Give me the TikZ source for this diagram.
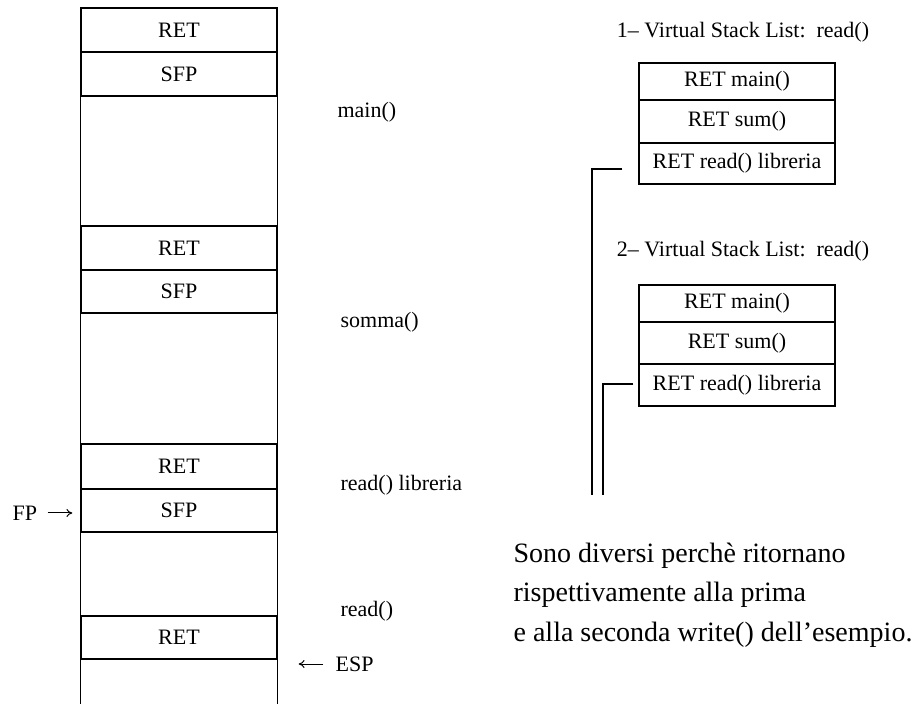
\documentclass[tikz,border=0pt]{standalone}
\usepackage{fontspec}
\setmainfont{Liberation Serif}
\usetikzlibrary{arrows.meta}

\begin{document}
\begin{tikzpicture}[x=0.5pt, y=-0.5pt,
  line width=0.6pt,
  every node/.style={font=\fontsize{11}{13}\selectfont},
  cell/.style={draw, minimum width=98pt, inner sep=0pt},
  label/.style={inner sep=0pt, anchor=west},
  note/.style={inner sep=0pt, anchor=base west, font=\fontsize{14}{17}\selectfont},
  ptr/.style={-{To[length=3pt,width=4pt]}, line width=0.5pt},
  link/.style={line width=0.6pt}]

\useasboundingbox (0,0) rectangle (914,704);

% ---- process stack (left) ----
\node[cell, minimum height=22pt]   (ret1) at (179,30)    {RET};
\node[cell, minimum height=22pt]   (sfp1) at (179,74)    {SFP};
\node[cell, minimum height=22pt]   (ret2) at (179,248)   {RET};
\node[cell, minimum height=21.5pt] (sfp2) at (179,291.5) {SFP};
\node[cell, minimum height=22.5pt] (ret3) at (179,466.5) {RET};
\node[cell, minimum height=21.5pt] (sfp3) at (179,510.5) {SFP};
\node[cell, minimum height=21.5pt] (ret4) at (179,637.5) {RET};

\coordinate (stackbottom) at (179,704);
\draw (ret1.north west) -- (ret1.north west |- stackbottom);
\draw (ret1.north east) -- (ret1.north east |- stackbottom);

% frame names
\node[label] (lmain)  at (337,112) {main()};
\node[label] (lsomma) at (340,322) {somma()};
\node[label] (llib)   at (340,485) {read() libreria};
\node[label] (lread)  at (340,611) {read()};

% frame and stack pointers
\node[label] (fp)  at (12,513)  {FP};
\draw[ptr, shorten <=5pt, shorten >=4pt] (fp.east) -- (fp.east -| sfp3.west);
\node[label] (esp) at (335,664) {ESP};
\draw[ptr, shorten <=6pt, shorten >=10.5pt] (esp.west) -- (esp.west -| ret4.east);

% ---- virtual stack lists (right) ----
\node (t1) at (743,32) {1-- Virtual Stack List:\ \ read()};
\node[cell, minimum height=18.5pt] (va1) at (737,81.5)  {RET main()};
\node[cell, minimum height=21.5pt] (vb1) at (737,121.5) {RET sum()};
\node[cell, minimum height=20.5pt] (vc1) at (737,163.5) {RET read() libreria};

\node (t2) at (743,251) {2-- Virtual Stack List:\ \ read()};
\node[cell, minimum height=18.5pt] (va2) at (737,303.5) {RET main()};
\node[cell, minimum height=21pt]   (vb2) at (737,343)   {RET sum()};
\node[cell, minimum height=21pt]   (vc2) at (737,385)   {RET read() libreria};

\coordinate (end1) at (592,495);
\coordinate (end2) at (603,495);
\draw[link] ([shift={(-16,5.5)}]vc1.west) -| (end1);
\draw[link] ([shift={(-5,-1)}]vc2.west) -| (end2);

% ---- explanation ----
\node[note] (n1) at (513,562) {Sono diversi perchè ritornano};
\node[note] (n2) at (513,601.5) {rispettivamente alla prima};
\node[note] (n3) at (513,641) {e alla seconda write() dell'esempio.};

\end{tikzpicture}
\end{document}
